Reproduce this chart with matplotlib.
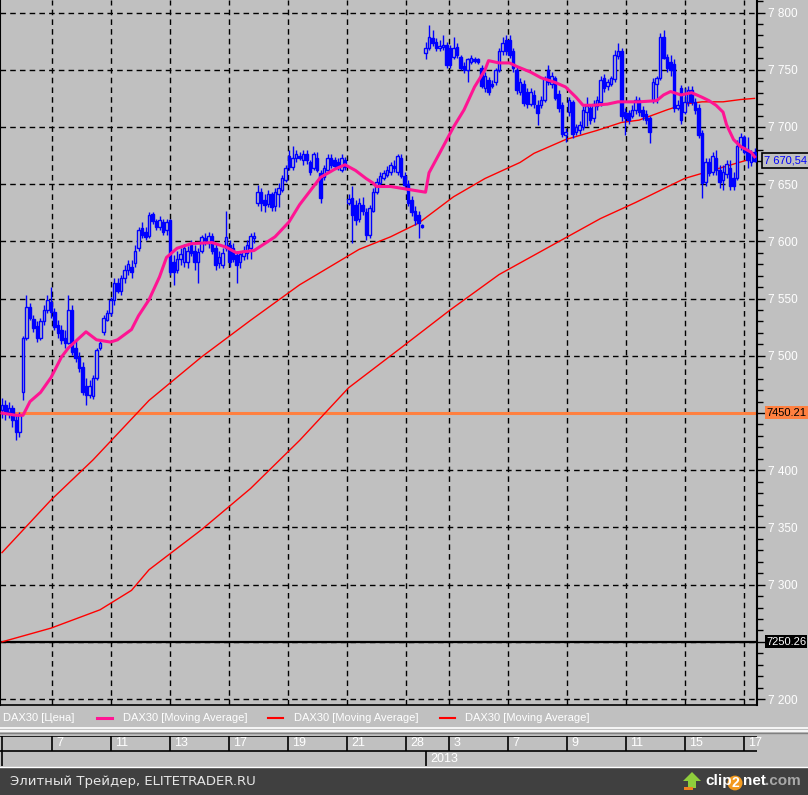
import numpy as np
import matplotlib
matplotlib.use("Agg")
import matplotlib.pyplot as plt
from matplotlib.ticker import MultipleLocator, FuncFormatter
from matplotlib.lines import Line2D
from matplotlib.patches import Rectangle, Polygon, Circle

plt.rcParams['font.family'] = ['Liberation Sans', 'DejaVu Sans']

# hourly DAX30 candles, Dec 2012 - Jan 2013
opens = [7453, 7457, 7451, 7454, 7444, 7433, 7468, 7516, 7543, 7532,
         7526, 7516, 7530, 7540, 7547, 7538, 7527, 7523, 7516, 7511,
         7540, 7507, 7499, 7490, 7474, 7466, 7465, 7481, 7507, 7521,
         7531, 7537, 7549, 7564, 7557, 7568, 7575, 7578, 7581, 7594,
         7612, 7608, 7605, 7624, 7618, 7613, 7617, 7610, 7619, 7582,
         7575, 7585, 7582, 7582, 7597, 7592, 7582, 7592, 7603, 7599,
         7605, 7594, 7581, 7579, 7594, 7597, 7594, 7588, 7582, 7587,
         7590, 7594, 7603, 7634, 7643, 7636, 7633, 7641, 7631, 7641,
         7645, 7654, 7675, 7665, 7673, 7675, 7671, 7676, 7669, 7664,
         7673, 7660, 7656, 7662, 7673, 7671, 7669, 7662, 7671, 7634,
         7638, 7632, 7620, 7632, 7626, 7606, 7627, 7643, 7651, 7655,
         7658, 7661, 7666, 7661, 7673, 7657, 7650, 7636, 7627, 7623,
         7614, 7765, 7769, 7778, 7774, 7769, 7770, 7772, 7769, 7761,
         7770, 7761, 7753, 7750, 7757, 7759, 7759, 7752, 7734, 7741,
         7738, 7739, 7750, 7766, 7776, 7776, 7766, 7750, 7731, 7738,
         7731, 7720, 7728, 7719, 7719, 7724, 7750, 7738, 7743, 7729,
         7719, 7693, 7713, 7722, 7696, 7697, 7700, 7713, 7717, 7708,
         7718, 7722, 7743, 7736, 7738, 7742, 7762, 7766, 7713, 7712,
         7710, 7715, 7724, 7715, 7711, 7708, 7724, 7738, 7743, 7779,
         7761, 7757, 7755, 7717, 7734, 7713, 7722, 7732, 7722, 7717,
         7695, 7652, 7669, 7661, 7673, 7662, 7654, 7659, 7664, 7655,
         7655, 7683, 7691, 7680, 7669, 7678]
highs = [7463, 7461, 7460, 7457, 7448, 7451, 7517, 7553, 7546, 7536,
         7530, 7533, 7544, 7553, 7560, 7542, 7531, 7527, 7523, 7553,
         7544, 7514, 7503, 7495, 7481, 7479, 7483, 7507, 7514, 7536,
         7540, 7551, 7568, 7568, 7571, 7579, 7584, 7584, 7597, 7613,
         7617, 7613, 7626, 7626, 7620, 7622, 7620, 7620, 7620, 7588,
         7592, 7594, 7598, 7596, 7601, 7597, 7594, 7606, 7607, 7608,
         7607, 7599, 7592, 7594, 7627, 7601, 7599, 7592, 7592, 7596,
         7601, 7607, 7608, 7649, 7647, 7641, 7645, 7643, 7647, 7651,
         7658, 7667, 7680, 7683, 7680, 7678, 7680, 7680, 7671, 7678,
         7678, 7662, 7667, 7676, 7676, 7674, 7673, 7676, 7674, 7641,
         7648, 7636, 7638, 7639, 7629, 7632, 7647, 7655, 7661, 7662,
         7666, 7669, 7671, 7676, 7676, 7661, 7654, 7640, 7631, 7627,
         7615, 7774, 7789, 7785, 7778, 7776, 7780, 7774, 7772, 7779,
         7773, 7763, 7757, 7760, 7763, 7761, 7760, 7754, 7748, 7744,
         7741, 7752, 7769, 7779, 7780, 7780, 7769, 7753, 7743, 7741,
         7734, 7734, 7732, 7724, 7727, 7745, 7754, 7748, 7745, 7732,
         7722, 7699, 7726, 7724, 7703, 7705, 7718, 7726, 7720, 7724,
         7727, 7745, 7746, 7742, 7745, 7767, 7773, 7769, 7717, 7715,
         7719, 7727, 7726, 7718, 7715, 7710, 7743, 7745, 7782, 7785,
         7764, 7763, 7759, 7724, 7737, 7734, 7736, 7736, 7725, 7720,
         7697, 7673, 7673, 7678, 7680, 7667, 7667, 7671, 7671, 7661,
         7689, 7695, 7693, 7691, 7680, 7682]
lows = [7446, 7444, 7446, 7438, 7426, 7429, 7461, 7514, 7531, 7521,
        7512, 7514, 7527, 7537, 7533, 7523, 7516, 7510, 7507, 7510,
        7501, 7495, 7486, 7466, 7457, 7463, 7462, 7479, 7505, 7518,
        7530, 7535, 7544, 7555, 7553, 7564, 7571, 7568, 7578, 7592,
        7603, 7601, 7603, 7615, 7610, 7610, 7606, 7606, 7571, 7562,
        7572, 7579, 7578, 7577, 7587, 7575, 7564, 7590, 7597, 7594,
        7589, 7575, 7577, 7577, 7592, 7578, 7582, 7564, 7577, 7584,
        7585, 7585, 7599, 7631, 7627, 7626, 7630, 7627, 7627, 7630,
        7643, 7652, 7662, 7662, 7669, 7671, 7667, 7668, 7658, 7662,
        7661, 7634, 7654, 7661, 7664, 7664, 7662, 7661, 7662, 7632,
        7599, 7614, 7617, 7623, 7601, 7603, 7626, 7641, 7648, 7654,
        7656, 7658, 7661, 7658, 7655, 7647, 7631, 7622, 7614, 7603,
        7612, 7759, 7767, 7771, 7766, 7766, 7767, 7752, 7752, 7759,
        7760, 7750, 7747, 7739, 7755, 7756, 7755, 7734, 7731, 7728,
        7734, 7737, 7748, 7763, 7763, 7760, 7748, 7729, 7728, 7718,
        7717, 7718, 7717, 7702, 7717, 7722, 7737, 7734, 7724, 7713,
        7691, 7687, 7710, 7690, 7693, 7694, 7697, 7701, 7703, 7704,
        7715, 7718, 7731, 7732, 7736, 7739, 7759, 7705, 7693, 7703,
        7708, 7711, 7710, 7706, 7703, 7686, 7721, 7721, 7741, 7759,
        7748, 7745, 7713, 7715, 7703, 7711, 7718, 7719, 7711, 7690,
        7638, 7648, 7657, 7658, 7658, 7647, 7645, 7655, 7645, 7645,
        7654, 7680, 7676, 7664, 7666, 7669]
closes = [7457, 7451, 7454, 7444, 7433, 7448, 7516, 7543, 7533, 7524,
          7516, 7530, 7540, 7549, 7538, 7525, 7520, 7514, 7511, 7540,
          7503, 7498, 7489, 7468, 7466, 7474, 7481, 7505, 7511, 7533,
          7537, 7549, 7564, 7557, 7568, 7575, 7580, 7573, 7592, 7610,
          7606, 7604, 7623, 7618, 7613, 7619, 7608, 7617, 7573, 7573,
          7585, 7589, 7594, 7592, 7590, 7582, 7591, 7604, 7601, 7605,
          7592, 7579, 7586, 7590, 7604, 7582, 7585, 7579, 7589, 7592,
          7597, 7605, 7605, 7643, 7634, 7632, 7641, 7630, 7643, 7647,
          7655, 7664, 7665, 7673, 7676, 7673, 7676, 7671, 7661, 7676,
          7662, 7638, 7664, 7673, 7667, 7666, 7665, 7673, 7665, 7637,
          7623, 7619, 7634, 7627, 7606, 7629, 7643, 7652, 7657, 7660,
          7662, 7667, 7664, 7675, 7657, 7649, 7634, 7626, 7619, 7616,
          7613, 7769, 7779, 7773, 7769, 7771, 7772, 7754, 7754, 7769,
          7763, 7752, 7750, 7759, 7760, 7758, 7757, 7736, 7745, 7731,
          7736, 7750, 7766, 7773, 7766, 7763, 7752, 7732, 7739, 7721,
          7720, 7731, 7720, 7712, 7724, 7743, 7739, 7745, 7725, 7717,
          7694, 7696, 7724, 7694, 7700, 7702, 7715, 7718, 7706, 7720,
          7724, 7741, 7734, 7739, 7743, 7763, 7766, 7710, 7708, 7706,
          7715, 7724, 7713, 7710, 7706, 7696, 7739, 7743, 7779, 7760,
          7752, 7750, 7717, 7719, 7706, 7722, 7732, 7722, 7715, 7693,
          7651, 7669, 7660, 7675, 7662, 7652, 7661, 7668, 7648, 7648,
          7683, 7691, 7678, 7671, 7677, 7670.54]

# moving averages, read at selected bars
ma_fast_bar = [0, 4, 6, 8, 11, 14, 17, 19, 24, 27, 31, 33, 37, 39, 42, 45, 47, 50, 54, 60,
               64, 67, 69, 72, 78, 82, 85, 89, 91, 95, 98, 101, 104, 106, 107, 111, 117, 121,
               122, 125, 129, 132, 135, 138, 139, 142, 145, 147, 151, 154, 158, 161, 164, 166,
               169, 173, 176, 179, 182, 187, 189, 191, 194, 197, 200, 202, 204, 206, 207, 209,
               211, 214, 215]
ma_fast = [7450, 7448, 7448, 7460, 7468, 7481, 7499, 7507, 7521, 7514, 7512, 7514, 7523, 7535,
           7549, 7569, 7586, 7594, 7598, 7599, 7595, 7590, 7591, 7592, 7604, 7617, 7632, 7648,
           7656, 7663, 7667, 7662, 7655, 7651, 7648, 7648, 7645, 7643, 7660, 7677, 7700, 7715,
           7735, 7750, 7758, 7756, 7756, 7753, 7748, 7743, 7739, 7735, 7726, 7719, 7719, 7720,
           7722, 7722, 7722, 7723, 7728, 7731, 7728, 7730, 7726, 7723, 7719, 7713, 7702, 7689,
           7683, 7678, 7674]
ma_mid_bar = [0, 14, 26, 42, 57, 71, 85, 102, 111, 119, 129, 138, 148, 152, 161, 170, 177,
              182, 190, 195, 200, 206, 211, 215]
ma_mid = [7328, 7374, 7409, 7461, 7499, 7531, 7562, 7593, 7604, 7616, 7639, 7655, 7669, 7677,
          7689, 7697, 7704, 7706, 7715, 7720, 7722, 7722, 7724, 7725]
ma_slow_bar = [0, 14, 28, 37, 42, 57, 71, 85, 99, 114, 128, 142, 155, 171, 181, 195, 205, 215]
ma_slow = [7250, 7262, 7278, 7295, 7313, 7348, 7384, 7426, 7472, 7507, 7540, 7571, 7593, 7620,
           7634, 7655, 7664, 7673]

level_orange = 7450.21
level_black = 7250.26

date_labels = ['7', '11', '13', '17', '19', '21', '28', '3', '7', '9', '11', '15', '17']
date_pos = [14.3, 31.1, 48.0, 64.9, 81.7, 98.6, 115.4, 127.7, 144.6, 161.4, 178.3, 195.1, 212.0]
year_label = '2013'
year_pos = 121.1

GRAY = '#c0c0c0'
BLUE = '#0000ff'
PINK = '#ff1493'
RED = '#ff0000'
ORANGE = '#ff8040'

W, H = 808, 795


def rect(x0, y0, x1, y1):
    return [x0 / W, 1 - y1 / H, (x1 - x0) / W, (y1 - y0) / H]


def fx(x):
    return x / W


def fy(y):
    return 1 - y / H


def price_fmt(v, _):
    # the two level tags sit on top of these labels
    if round(v) in (7250, 7450):
        return ''
    return f"{v:,.0f}".replace(",", " ")


fig = plt.figure(figsize=(W / 100, H / 100), dpi=100)
fig.patch.set_facecolor(GRAY)

ax = fig.add_axes(rect(0, 0, 757, 705))
ax.set_facecolor(GRAY)
ax.set_xlim(-0.57, 215.7)
ax.set_ylim(7194.8, 7811.0)

# grid
ax.set_xticks(date_pos)
ax.yaxis.set_major_locator(MultipleLocator(50))
ax.yaxis.set_minor_locator(MultipleLocator(10))
ax.grid(True, which='major', color='black', linestyle=(0, (4, 3)), linewidth=1)
ax.set_axisbelow(True)
ax.tick_params(axis='x', length=0, labelbottom=False)
ax.yaxis.tick_right()
ax.yaxis.set_major_formatter(FuncFormatter(price_fmt))
ax.tick_params(axis='y', which='major', length=6, width=1, color='black',
               labelcolor='white', labelsize=8.5, pad=2)
ax.tick_params(axis='y', which='minor', length=4, width=1, color='black')
ax.spines['top'].set_visible(False)
ax.spines['right'].set_linewidth(1.5)
ax.spines['left'].set_linewidth(1.5)
ax.spines['bottom'].set_linewidth(1.2)

# levels
ax.axhline(level_orange, color=ORANGE, lw=2.2, zorder=2)
ax.axhline(level_black, color='black', lw=1.6, zorder=2)

# moving averages
ax.plot(ma_slow_bar, ma_slow, color=RED, lw=1, zorder=3)
ax.plot(ma_mid_bar, ma_mid, color=RED, lw=1, zorder=3)

# candles
x = np.arange(len(closes))
o = np.array(opens, dtype=float)
c = np.array(closes, dtype=float)
up = c >= o
bottom = np.minimum(o, c)
height = np.abs(c - o)
ax.vlines(x, lows, highs, color=BLUE, lw=1, zorder=4)
ax.bar(x[up], height[up], bottom=bottom[up], width=0.6, facecolor=GRAY,
       edgecolor=BLUE, linewidth=1, zorder=5)
ax.bar(x[~up], height[~up], bottom=bottom[~up], width=0.6, facecolor=BLUE,
       edgecolor=BLUE, linewidth=1, zorder=5)

ax.plot(ma_fast_bar, ma_fast, color=PINK, lw=2.2, zorder=6)

# price tags on the scale
ytr = ax.get_yaxis_transform()
ax.add_patch(Rectangle((765 / 757, level_orange - 5.5), 0.06, 11, transform=ytr,
                       facecolor=ORANGE, edgecolor='none', clip_on=False, zorder=7))
ax.text(766 / 757, level_orange, '7450.21', transform=ytr, va='center', ha='left',
        fontsize=8, color='black', clip_on=False, zorder=8)
ax.add_patch(Rectangle((765 / 757, level_black - 5.5), 0.055, 11, transform=ytr,
                       facecolor='black', edgecolor='none', clip_on=False, zorder=7))
ax.text(766 / 757, level_black, '7250.26', transform=ytr, va='center', ha='left',
        fontsize=8, color='white', clip_on=False, zorder=8)
last = closes[-1]
ax.add_patch(Rectangle((762 / 757, last - 6.5), 0.07, 13, transform=ytr,
                       facecolor=GRAY, edgecolor='black', lw=1.2, clip_on=False, zorder=7))
ax.text(764 / 757, last, f"{last:,.2f}".replace(",", " ").replace(".", ","), transform=ytr,
        va='center', ha='left', fontsize=8, color=BLUE, clip_on=False, zorder=8)

# legend strip
leg_y = fy(718)
fig.text(fx(3), leg_y, 'DAX30 [Цена]', color='white', fontsize=8, va='center')
for x0, x1, col, lw, tx in [(97, 112, PINK, 2.2, 123), (268, 283, RED, 1.5, 294),
                            (440, 455, RED, 1.5, 465)]:
    fig.add_artist(Line2D([fx(x0), fx(x1)], [leg_y, leg_y], color=col, lw=lw))
    fig.text(fx(tx), leg_y, 'DAX30 [Moving Average]', color='white', fontsize=8, va='center')

fig.add_artist(Line2D([0, 1], [fy(727.5), fy(727.5)], color='white', lw=1.2))
fig.add_artist(Line2D([0, 1], [fy(730.5), fy(730.5)], color='white', lw=1.2))
fig.add_artist(Line2D([0, 1], [fy(732.5), fy(732.5)], color='#808080', lw=1))

# date strip
axd = fig.add_axes(rect(0, 736, 757, 766))
axd.set_facecolor(GRAY)
axd.set_xlim(ax.get_xlim())
axd.set_ylim(0, 2)
axd.axis('off')
axd.hlines([2, 1], -0.57, 215.7, color='black', lw=1.2)
axd.vlines(date_pos, 1, 2, color='black', lw=1.2)
axd.vlines([0.0], 0, 2, color='black', lw=1.2)
axd.vlines([year_pos], 0, 1, color='black', lw=1.2)
for p, lab in zip(date_pos, date_labels):
    axd.annotate(lab, (p, 1.5), xytext=(3, 0), textcoords='offset points',
                 va='center', ha='left', color='white', fontsize=9)
axd.annotate(year_label, (year_pos, 0.5), xytext=(3, 0), textcoords='offset points',
             va='center', ha='left', color='white', fontsize=9)
fig.add_artist(Line2D([0, 1], [fy(766.5), fy(766.5)], color='white', lw=1))

# footer
fig.add_artist(Rectangle((0, 0), 1, 28 / H, transform=fig.transFigure,
                         facecolor='#404040', edgecolor='none'))
fig.text(fx(10), fy(781), 'Элитный Трейдер, ELITETRADER.RU', color='#e6e6e6',
         fontsize=9.5, va='center', family='DejaVu Sans')

# clip2net logo
arrow = [(683, 781), (692, 772), (701, 781), (696, 781), (696, 788), (688, 788), (688, 781)]
fig.add_artist(Polygon([(fx(a), fy(b)) for a, b in arrow], closed=True,
                       transform=fig.transFigure, facecolor='#8fce3c', edgecolor='none'))
fig.add_artist(Rectangle((fx(684), fy(790)), 9 / W, 3 / H, transform=fig.transFigure,
                         facecolor='#f08020', edgecolor='none'))
fig.text(fx(705), fy(781), 'clip', color='white', fontsize=11, fontweight='bold',
         va='center')
fig.add_artist(Circle((fx(735), fy(783)), 7.5 / W, transform=fig.transFigure,
                      facecolor='#f39a1e', edgecolor='none'))
fig.text(fx(735), fy(783), '2', color='white', fontsize=10, fontweight='bold',
         va='center', ha='center')
fig.text(fx(743), fy(781), 'net', color='white', fontsize=11, fontweight='bold',
         va='center')
fig.text(fx(765), fy(781), '.com', color='#a8a8a8', fontsize=11, fontweight='bold',
         va='center')

fig.savefig('out.png', dpi=100, facecolor=fig.get_facecolor())
